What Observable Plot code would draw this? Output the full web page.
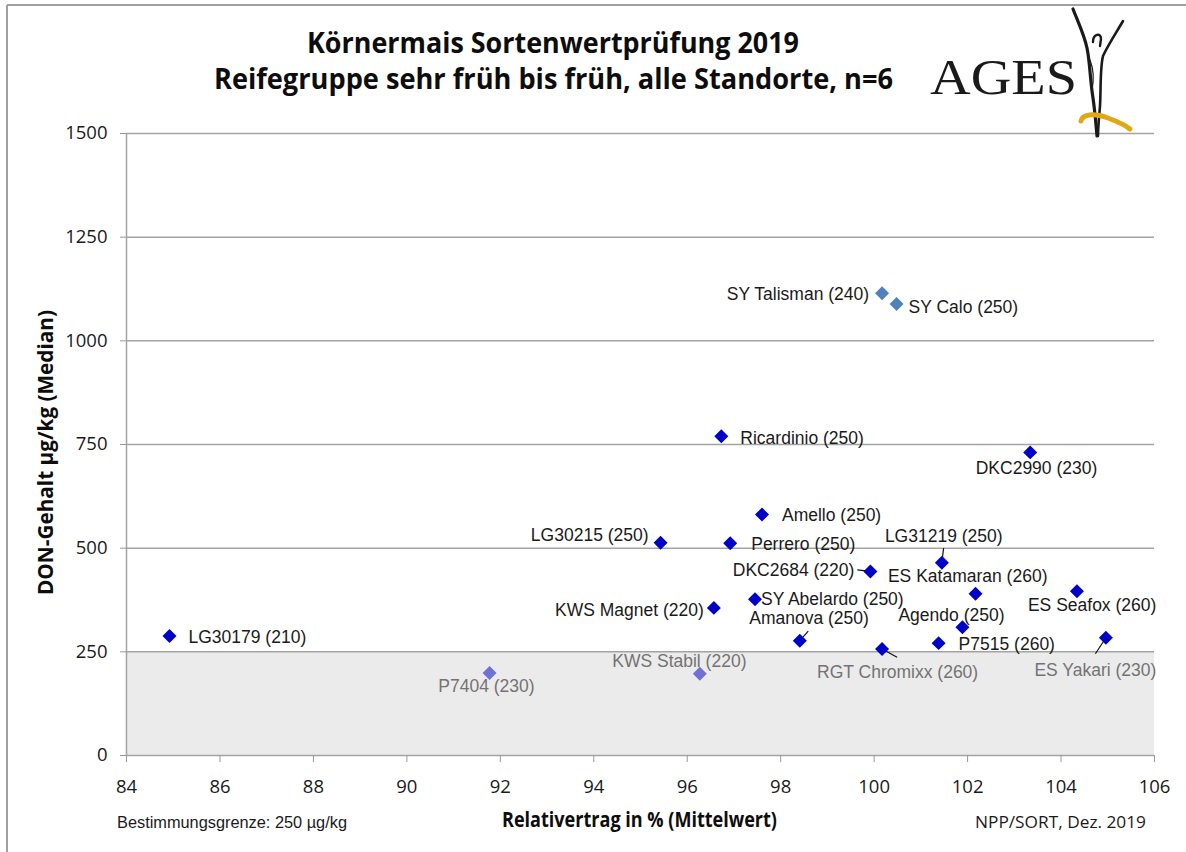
<!DOCTYPE html>
<html>
<head>
<meta charset="utf-8">
<script src="https://cdn.jsdelivr.net/npm/d3@7"></script>
<script src="https://cdn.jsdelivr.net/npm/@observablehq/plot@0.6"></script>
<style>
html, body { margin: 0; padding: 0; background: #fff; }
#wrap { position: relative; width: 1186px; height: 852px; overflow: hidden; background: #fff; }
#wrap > svg { position: absolute; left: 0; top: 0; }
</style>
</head>
<body>
<div id="wrap"></div>
<script>
// ---------------- data ----------------
const sorten = ["SY Talisman", "SY Calo", "Ricardinio", "DKC2990", "Amello", "LG30215", "Perrero",
  "LG31219", "DKC2684", "ES Katamaran", "ES Seafox", "SY Abelardo", "KWS Magnet", "Agendo",
  "P7515", "ES Yakari", "Amanova", "RGT Chromixx", "KWS Stabil", "P7404", "LG30179"];
const reifezahl = [240, 250, 250, 230, 250, 250, 250, 250, 220, 260, 260, 250, 220, 250, 260, 230, 250, 260, 220, 230, 210];
const relativertrag = [100.17, 100.48, 96.73, 103.34, 97.60, 95.43, 96.92, 101.45, 99.92, 102.17, 104.34,
  97.45, 96.57, 101.89, 101.38, 104.96, 98.41, 100.17, 96.27, 91.77, 84.92];
const donMedian = [1115, 1089, 770, 731, 581, 513, 512, 465, 444, 390, 396, 377, 356, 309, 271, 284, 277, 257, 197, 199, 288];
const serie = ["A", "A", "B", "B", "B", "B", "B", "B", "B", "B", "B", "B", "B", "B", "B", "B", "B", "B", "C", "C", "B"];
const xTicks = [84, 86, 88, 90, 92, 94, 96, 98, 100, 102, 104, 106];
const yTicks = [0, 250, 500, 750, 1000, 1250, 1500];
const bestimmungsgrenze = 250;

// ---------------- layout ----------------
const W = 1186, H = 852, mL = 126, mR = 32, mT = 133, mB = 97;
const xDomain = [84, 106], yDomain = [0, 1500];
const unitPerPxX = (xDomain[1] - xDomain[0]) / (W - mL - mR);
const unitPerPxY = (yDomain[1] - yDomain[0]) / (H - mT - mB);

// label placement (pixel offsets from the point), anchor, colour, optional leader end
const placement = {
  "SY Talisman":  {dx: -13, dy: 1, anchor: "end"},
  "SY Calo":      {dx: 12, dy: 3, anchor: "start"},
  "Ricardinio":   {dx: 19, dy: 2, anchor: "start"},
  "DKC2990":      {dx: -54.5, dy: 16, anchor: "start"},
  "Amello":       {dx: 20, dy: 1, anchor: "start"},
  "LG30215":      {dx: -12, dy: -7, anchor: "end"},
  "Perrero":      {dx: 21, dy: 1, anchor: "start"},
  "LG31219":      {dx: -57, dy: -26, anchor: "start", leader: [1.7, -14.6]},
  "DKC2684":      {dx: -16, dy: -1, anchor: "end", leader: [-13, -1.5]},
  "ES Katamaran": {dx: -87.6, dy: -17, anchor: "start"},
  "ES Seafox":    {dx: -49, dy: 14, anchor: "start"},
  "SY Abelardo":  {dx: 6, dy: 0, anchor: "start"},
  "KWS Magnet":   {dx: -10, dy: 3, anchor: "end"},
  "Agendo":       {dx: -64, dy: -12, anchor: "start"},
  "P7515":        {dx: 20, dy: 1, anchor: "start"},
  "ES Yakari":    {dx: -71.5, dy: 33, anchor: "start", grey: true, leader: [-10.5, 16]},
  "Amanova":      {dx: -50.6, dy: -22, anchor: "start", leader: [8.4, -9.6]},
  "RGT Chromixx": {dx: -65, dy: 23, anchor: "start", grey: true, leader: [15, 8.4]},
  "KWS Stabil":   {dx: -87.6, dy: -12, anchor: "start", grey: true},
  "P7404":        {dx: -51.3, dy: 13.5, anchor: "start", grey: true},
  "LG30179":      {dx: 19, dy: 1, anchor: "start"}
};

const rows = sorten.map((s, i) => ({sorte: s, reife: reifezahl[i], x: relativertrag[i], y: donMedian[i], serie: serie[i]}));
const leaders = rows.filter(d => placement[d.sorte].leader).map(d => {
  const [lx, ly] = placement[d.sorte].leader;
  return {x1: d.x, y1: d.y, x2: d.x + lx * unitPerPxX, y2: d.y - ly * unitPerPxY};
});

const labelFont = "'Liberation Sans', Arial, sans-serif";
const tickFont = "'Open Sans', sans-serif";

const labelMarks = rows.map(d => {
  const p = placement[d.sorte];
  return Plot.text([d], {
    x: "x", y: "y", text: r => `${r.sorte} (${r.reife})`,
    dx: p.dx, dy: p.dy, textAnchor: p.anchor,
    fill: p.grey ? "#737373" : "#1a1a1a",
    fontSize: 17.5, fontFamily: labelFont
  });
});

const chart = Plot.plot({
  width: W, height: H,
  marginLeft: mL, marginRight: mR, marginTop: mT, marginBottom: mB,
  style: {background: "transparent", fontFamily: tickFont, color: "#1a1a1a", overflow: "visible"},
  x: {domain: xDomain, label: null},
  y: {domain: yDomain, label: null},
  color: {domain: ["A", "B", "C"], range: ["#4f81bd", "#0000c8", "#7070d6"]},
  marks: [
    Plot.rect([bestimmungsgrenze], {x1: xDomain[0], x2: xDomain[1], y1: 0, y2: d => d, fill: "#ebebeb"}),
    Plot.ruleY(yTicks.filter(v => v > 0), {stroke: "#a3a3a3", strokeWidth: 1.5}),
    Plot.ruleY([0], {stroke: "#a3a3a3", strokeWidth: 1.5}),
    Plot.ruleX([xDomain[0]], {stroke: "#a3a3a3", strokeWidth: 1.5}),
    Plot.axisX({ticks: xTicks, tickSize: 7, tickPadding: 17, stroke: "#999", fill: "#1a1a1a",
      fontSize: 18.5, fontFamily: tickFont, tickFormat: d => String(d), label: null}),
    Plot.axisY({ticks: yTicks, tickSize: 6, tickPadding: 13, stroke: "#999", fill: "#1a1a1a",
      fontSize: 18.5, fontFamily: tickFont, tickFormat: d => String(d), label: null}),
    Plot.link(leaders, {x1: "x1", y1: "y1", x2: "x2", y2: "y2", stroke: "#111", strokeWidth: 1.2}),
    Plot.dot(rows, {x: "x", y: "y", fill: "serie", symbol: "diamond2", r: 6.3}),
    ...labelMarks
  ]
});

const wrap = document.getElementById("wrap");
wrap.appendChild(chart);

// ---------------- overlay texts ----------------
const ns = "http://www.w3.org/2000/svg";
const ov = document.createElementNS(ns, "svg");
ov.setAttribute("width", W);
ov.setAttribute("height", H);
ov.style.pointerEvents = "none";
ov.innerHTML = `
  <line x1="7" y1="5" x2="1186" y2="5" stroke="#a0a0a0" stroke-width="2"/>
  <line x1="7" y1="5" x2="7" y2="852" stroke="#a0a0a0" stroke-width="2"/>
  <g font-family="'Open Sans', sans-serif" font-weight="bold" fill="#0d0d0d" text-anchor="middle">
    <text x="553" y="53" font-size="29" textLength="492" lengthAdjust="spacingAndGlyphs">Körnermais Sortenwertprüfung 2019</text>
    <text x="553.5" y="89" font-size="29" textLength="679" lengthAdjust="spacingAndGlyphs">Reifegruppe sehr früh bis früh, alle Standorte, n=6</text>
  </g>
  <text x="930" y="94" font-family="'Liberation Serif', 'Times New Roman', serif" font-size="51" fill="#1a1a1a" textLength="147" lengthAdjust="spacingAndGlyphs">AGES</text>
  <g fill="none" stroke="#1a1a1a" stroke-linecap="round">
    <path d="M1073,9 C1078,22 1084,34 1087,48 C1090,62 1090,80 1093,98 C1095,112 1096,124 1097,136" stroke-width="3.2"/>
    <path d="M1123,21 C1116,33 1108,45 1103,56 C1100,68 1101,88 1100,106 C1099,118 1098,128 1098,136" stroke-width="2.6"/>
    <path d="M1093,42 C1093,34 1101,32 1101,39 L1100,46" stroke-width="2.4"/>
    <path d="M1090,60 C1094,70 1094,80 1092,90" stroke-width="1.2"/>
  </g>
  <path d="M1081,121 C1082,114 1094,113 1108,118 C1116,121 1124,124 1130,129" fill="none" stroke="#e0a812" stroke-width="5" stroke-linecap="round"/>
  <text transform="translate(53.3,452.5) rotate(-90)" text-anchor="middle" font-family="'Open Sans', sans-serif" font-weight="bold" font-size="22" fill="#0d0d0d" textLength="285" lengthAdjust="spacingAndGlyphs">DON-Gehalt µg/kg (Median)</text>
  <text x="639.5" y="827" text-anchor="middle" font-family="'Open Sans', sans-serif" font-weight="bold" font-size="21.5" fill="#0d0d0d" textLength="275" lengthAdjust="spacingAndGlyphs">Relativertrag in % (Mittelwert)</text>
  <text x="117" y="827.5" font-family="'Liberation Sans Narrow', 'Liberation Sans', sans-serif" font-size="16" fill="#1a1a1a" textLength="230" lengthAdjust="spacingAndGlyphs">Bestimmungsgrenze: 250 µg/kg</text>
  <text x="975" y="828" font-family="'Open Sans', sans-serif" font-size="15.5" fill="#1a1a1a" textLength="171" lengthAdjust="spacingAndGlyphs">NPP/SORT, Dez. 2019</text>
`;
wrap.appendChild(ov);
</script>
</body>
</html>
